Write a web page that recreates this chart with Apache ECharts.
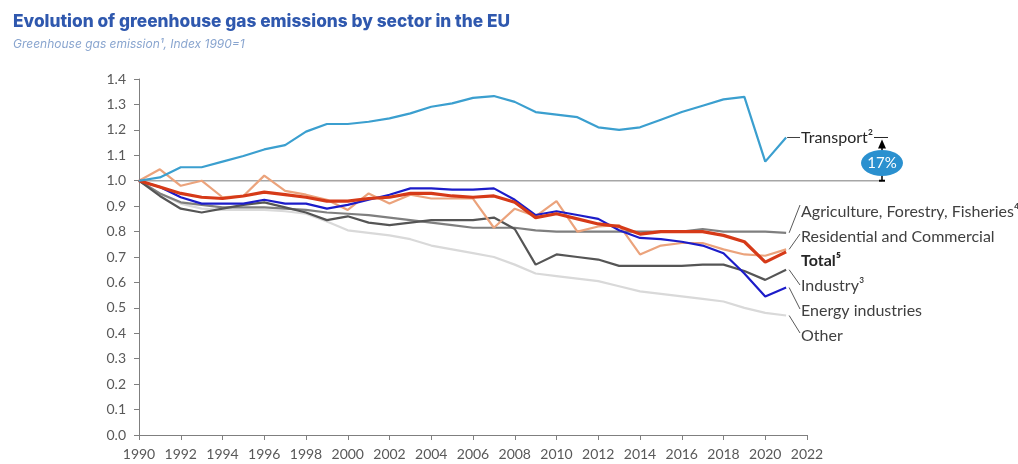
<!DOCTYPE html>
<html>
<head>
<meta charset="utf-8">
<script src="https://cdn.jsdelivr.net/npm/echarts@6/dist/echarts.min.js"></script>
<style>
  html, body { margin: 0; padding: 0; background: #fff; }
  #main { width: 1018px; height: 464px; }
</style>
</head>
<body>
<div id="main"></div>
<script>
var years = [1990, 1991, 1992, 1993, 1994, 1995, 1996, 1997, 1998, 1999,
             2000, 2001, 2002, 2003, 2004, 2005, 2006, 2007, 2008, 2009,
             2010, 2011, 2012, 2013, 2014, 2015, 2016, 2017, 2018, 2019,
             2020, 2021];

// index 1990 = 1
var transport = [1.0, 1.013, 1.053, 1.053, 1.075, 1.097, 1.123, 1.14, 1.193, 1.223,
                 1.223, 1.232, 1.245, 1.265, 1.291, 1.304, 1.326, 1.333, 1.31, 1.27,
                 1.26, 1.25, 1.21, 1.2, 1.21, 1.24, 1.27, 1.295, 1.32, 1.33,
                 1.075, 1.17];
var agriculture = [1.0, 0.95, 0.915, 0.905, 0.895, 0.895, 0.895, 0.89, 0.885, 0.875,
                   0.87, 0.865, 0.855, 0.845, 0.835, 0.825, 0.815, 0.815, 0.815, 0.805,
                   0.8, 0.8, 0.8, 0.8, 0.8, 0.8, 0.8, 0.81, 0.8, 0.8,
                   0.8, 0.795];
var residential = [1.0, 1.045, 0.98, 1.0, 0.935, 0.94, 1.02, 0.96, 0.945, 0.925,
                   0.885, 0.95, 0.91, 0.945, 0.93, 0.93, 0.93, 0.815, 0.89, 0.86,
                   0.92, 0.8, 0.82, 0.825, 0.71, 0.745, 0.755, 0.755, 0.73, 0.71,
                   0.705, 0.73];
var total = [1.0, 0.975, 0.95, 0.935, 0.93, 0.94, 0.955, 0.945, 0.935, 0.92,
             0.92, 0.93, 0.935, 0.95, 0.95, 0.94, 0.935, 0.94, 0.915, 0.855,
             0.87, 0.85, 0.83, 0.82, 0.79, 0.8, 0.8, 0.8, 0.785, 0.76,
             0.68, 0.72];
var industry = [1.0, 0.94, 0.89, 0.875, 0.89, 0.905, 0.915, 0.895, 0.875, 0.845,
                0.86, 0.835, 0.825, 0.835, 0.845, 0.845, 0.845, 0.855, 0.81, 0.67,
                0.71, 0.7, 0.69, 0.665, 0.665, 0.665, 0.665, 0.67, 0.67, 0.645,
                0.61, 0.65];
var energy = [1.0, 0.975, 0.935, 0.91, 0.91, 0.91, 0.925, 0.91, 0.91, 0.89,
              0.905, 0.925, 0.945, 0.97, 0.97, 0.965, 0.965, 0.97, 0.925, 0.865,
              0.88, 0.865, 0.85, 0.805, 0.775, 0.77, 0.76, 0.745, 0.715, 0.635,
              0.545, 0.58];
var other = [1.0, 0.95, 0.91, 0.89, 0.885, 0.885, 0.885, 0.88, 0.87, 0.84,
             0.805, 0.795, 0.785, 0.77, 0.745, 0.73, 0.715, 0.7, 0.67, 0.635,
             0.625, 0.615, 0.605, 0.585, 0.565, 0.555, 0.545, 0.535, 0.525, 0.5,
             0.48, 0.47];
var transportChange = '17%';

var chart = echarts.init(document.getElementById('main'), null, { renderer: 'canvas' });

function pairs(vals) {
  return years.map(function (y, i) { return [y, vals[i]]; });
}
function lineSeries(name, vals, color, width) {
  return {
    name: name,
    type: 'line',
    data: pairs(vals),
    symbol: 'none',
    silent: true,
    lineStyle: { color: color, width: width },
    itemStyle: { color: color }
  };
}

var axisFont = { color: '#595959', fontSize: 14, fontFamily: 'Lato' };

var option = {
  animation: false,
  title: {
    text: 'Evolution of greenhouse gas emissions by sector in the EU',
    subtext: 'Greenhouse gas emission\u00b9, Index 1990=1',
    left: 8,
    top: 8,
    itemGap: 8,
    textStyle: { color: '#2f58ae', fontSize: 17.3, fontWeight: 800, fontFamily: 'Inter' },
    subtextStyle: { color: '#89a5cf', fontSize: 12, fontStyle: 'italic', fontFamily: 'Inter' }
  },
  grid: { left: 139, right: 211, top: 79, bottom: 29 },
  xAxis: {
    type: 'value',
    min: 1990,
    max: 2022,
    interval: 2,
    axisLine: { lineStyle: { color: '#7f7f7f', width: 1 } },
    axisTick: { show: true, length: 5, lineStyle: { color: '#7f7f7f' } },
    axisLabel: Object.assign({ margin: 12, formatter: function (v) { return String(v); } }, axisFont),
    splitLine: { show: false }
  },
  yAxis: {
    type: 'value',
    min: 0,
    max: 1.4,
    interval: 0.1,
    axisLine: { show: true, lineStyle: { color: '#7f7f7f', width: 1 } },
    axisTick: { show: true, length: 5, lineStyle: { color: '#7f7f7f' } },
    axisLabel: Object.assign({ margin: 13, formatter: function (v) { return v.toFixed(1); } }, axisFont),
    splitLine: { show: false }
  },
  series: [
    lineSeries('Other', other, '#d9d9d9', 2.2),
    lineSeries('Agriculture, Forestry, Fisheries', agriculture, '#7f7f7f', 2.2),
    lineSeries('Industry', industry, '#555555', 2.2),
    lineSeries('Residential and Commercial', residential, '#eba37c', 2.2),
    lineSeries('Energy industries', energy, '#1c1cc9', 2.2),
    lineSeries('Total', total, '#d63a18', 3.2),
    lineSeries('Transport', transport, '#3b9fcf', 2.2)
  ]
};
chart.setOption(option);

// annotations: labels at the right, reference line at 1.0, change marker for transport
var last = years.length - 1;
function px(v) { return chart.convertToPixel({ gridIndex: 0 }, [years[last], v]); }
var x0 = chart.convertToPixel({ gridIndex: 0 }, [years[0], 1])[0];
var y1 = chart.convertToPixel({ gridIndex: 0 }, [years[0], 1])[1];
var labelX = 801;
var markX = 882;
var textStyle = { fill: '#404040', fontSize: 16, fontFamily: 'Lato' };

var labels = [
  { text: 'Agriculture, Forestry, Fisheries\u2074', value: agriculture[last], y: 212, dy: -7 },
  { text: 'Residential and Commercial', value: residential[last], y: 237, dy: -3 },
  { text: 'Total\u2075', value: total[last], y: 261, bold: true, noLeader: true },
  { text: 'Industry\u00b3', value: industry[last], y: 286, dy: -1 },
  { text: 'Energy industries', value: energy[last], y: 311, dy: -2 },
  { text: 'Other', value: other[last], y: 336, dy: -3 }
];

var graphics = [];
graphics.push({
  type: 'line', z: 0,
  shape: { x1: x0, y1: y1, x2: markX, y2: y1 },
  style: { stroke: '#a6a6a6', lineWidth: 1.5 }
});
labels.forEach(function (l) {
  var p = px(l.value);
  if (!l.noLeader) {
    graphics.push({
      type: 'line',
      shape: { x1: p[0] + 3, y1: p[1], x2: labelX - 1, y2: l.y + l.dy },
      style: { stroke: '#595959', lineWidth: 1 }
    });
  }
  graphics.push({
    type: 'text', x: labelX, y: l.y,
    style: Object.assign({}, textStyle, {
      text: l.text, verticalAlign: 'middle',
      fill: l.bold ? '#262626' : '#404040',
      fontWeight: l.bold ? 'bold' : 'normal'
    })
  });
});

var pT = px(transport[last]);
graphics.push({
  type: 'line',
  shape: { x1: pT[0] + 1, y1: pT[1], x2: labelX - 1, y2: pT[1] },
  style: { stroke: '#404040', lineWidth: 1 }
});
graphics.push({
  type: 'text', x: labelX, y: pT[1],
  style: Object.assign({}, textStyle, { text: 'Transport\u00b2', verticalAlign: 'middle', fill: '#262626' })
});
graphics.push({
  type: 'line',
  shape: { x1: 874, y1: pT[1], x2: markX + 6, y2: pT[1] },
  style: { stroke: '#262626', lineWidth: 1 }
});
graphics.push({
  type: 'line',
  shape: { x1: markX, y1: y1, x2: markX, y2: pT[1] + 6 },
  style: { stroke: '#000', lineWidth: 1.5 }
});
graphics.push({
  type: 'polygon',
  shape: { points: [[markX - 4, pT[1] + 11], [markX + 4, pT[1] + 11], [markX, pT[1] + 2]] },
  style: { fill: '#000' }
});
graphics.push({
  type: 'line',
  shape: { x1: markX - 3, y1: y1, x2: markX + 3, y2: y1 },
  style: { stroke: '#000', lineWidth: 2 }
});
graphics.push({
  type: 'ellipse',
  shape: { cx: markX, cy: 163, rx: 21, ry: 13 },
  style: { fill: '#2a90cf' }
});
graphics.push({
  type: 'text', x: markX, y: 163,
  style: { text: transportChange, fill: '#fff', fontSize: 15, fontFamily: 'Lato', align: 'center', verticalAlign: 'middle' }
});

chart.setOption({ graphic: graphics });
</script>
</body>
</html>
